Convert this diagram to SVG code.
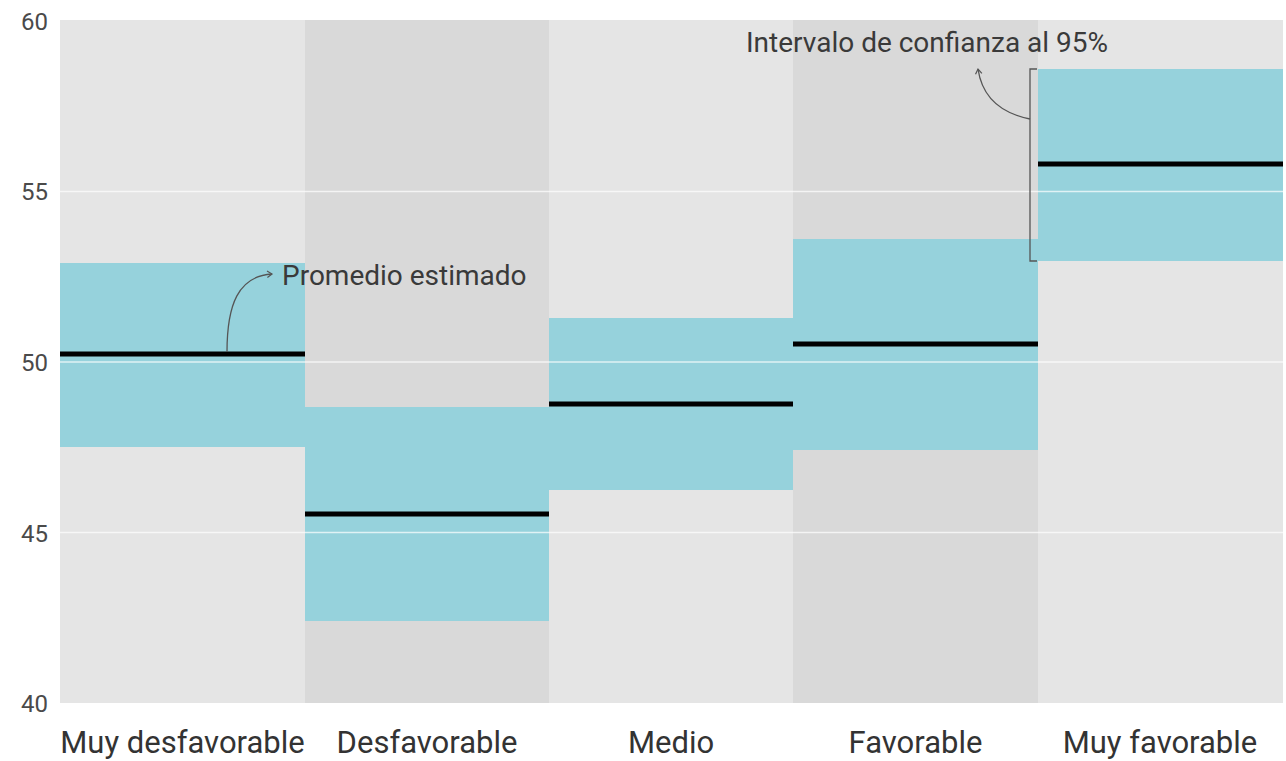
<svg xmlns="http://www.w3.org/2000/svg" width="1286" height="761" viewBox="0 0 1286 761">
<defs>
<style>
.bandL{fill:#e5e5e5}
.bandD{fill:#d9d9d9}
.ci{fill:#96d2dc}
.mean{stroke:#000;stroke-width:5}
.grid{stroke:#ffffff;stroke-width:1.5;stroke-opacity:0.7}
.ytick{font-family:Roboto,"Liberation Sans",sans-serif;font-size:24px;fill:#4a4a4a;text-anchor:end}
.xlab{font-family:Roboto,"Liberation Sans",sans-serif;font-size:31px;fill:#333;text-anchor:middle}
.ann{font-family:Roboto,"Liberation Sans",sans-serif;font-size:28px;fill:#3a3a3a}
.conn{fill:none;stroke:#555;stroke-width:1.3}
</style>
<marker id="arr" viewBox="0 0 10 10" refX="8" refY="5" markerWidth="8" markerHeight="8" orient="auto" markerUnits="userSpaceOnUse">
<path d="M2,1 L8,5 L2,9" fill="none" stroke="#555" stroke-width="1.5"/>
</marker>
</defs>
<rect width="1286" height="761" fill="#fff"/>
<g id="bands">
<rect class="bandL" x="60" y="20" width="245" height="683"/>
<rect class="bandD" x="305" y="20" width="244" height="683"/>
<rect class="bandL" x="549" y="20" width="244" height="683"/>
<rect class="bandD" x="793" y="20" width="245" height="683"/>
<rect class="bandL" x="1038" y="20" width="245" height="683"/>
</g>
<g id="cat-muy-desfavorable">
<rect class="ci" x="60" y="263" width="245" height="184"/>
<line class="mean" x1="60" y1="354" x2="305" y2="354"/>
</g>
<g id="cat-desfavorable">
<rect class="ci" x="305" y="407" width="244" height="214"/>
<line class="mean" x1="305" y1="514" x2="549" y2="514"/>
</g>
<g id="cat-medio">
<rect class="ci" x="549" y="318" width="244" height="172"/>
<line class="mean" x1="549" y1="404" x2="793" y2="404"/>
</g>
<g id="cat-favorable">
<rect class="ci" x="793" y="239" width="245" height="211"/>
<line class="mean" x1="793" y1="344" x2="1038" y2="344"/>
</g>
<g id="cat-muy-favorable">
<rect class="ci" x="1038" y="69" width="245" height="192"/>
<line class="mean" x1="1038" y1="164" x2="1283" y2="164"/>
</g>
<g id="gridlines">
<line class="grid" x1="60" y1="191.5" x2="1283" y2="191.5"/>
<line class="grid" x1="60" y1="362" x2="1283" y2="362"/>
<line class="grid" x1="60" y1="532.5" x2="1283" y2="532.5"/>
</g>
<g id="y-axis">
<text class="ytick" x="48" y="30">60</text>
<text class="ytick" x="48" y="200">55</text>
<text class="ytick" x="48" y="371">50</text>
<text class="ytick" x="48" y="542">45</text>
<text class="ytick" x="48" y="712">40</text>
</g>
<g id="x-axis">
<text class="xlab" x="182.5" y="753">Muy desfavorable</text>
<text class="xlab" x="427" y="753">Desfavorable</text>
<text class="xlab" x="671" y="753">Medio</text>
<text class="xlab" x="915.5" y="753">Favorable</text>
<text class="xlab" x="1160" y="753">Muy favorable</text>
</g>
<g id="connectors">
<path class="conn" d="M227,352 C227,305 238,276 272,274" marker-end="url(#arr)"/>
<path class="conn" d="M1037,69 L1030,69 L1030,261 L1037,261"/>
<path class="conn" d="M1030,119 C1000,113 982,96 978,69" marker-end="url(#arr)"/>
</g>
<g id="annotation-promedio">
<text class="ann" x="282" y="285">Promedio estimado</text>
</g>
<g id="annotation-intervalo">
<text class="ann" x="746" y="52">Intervalo de confianza al 95%</text>
</g>
</svg>
